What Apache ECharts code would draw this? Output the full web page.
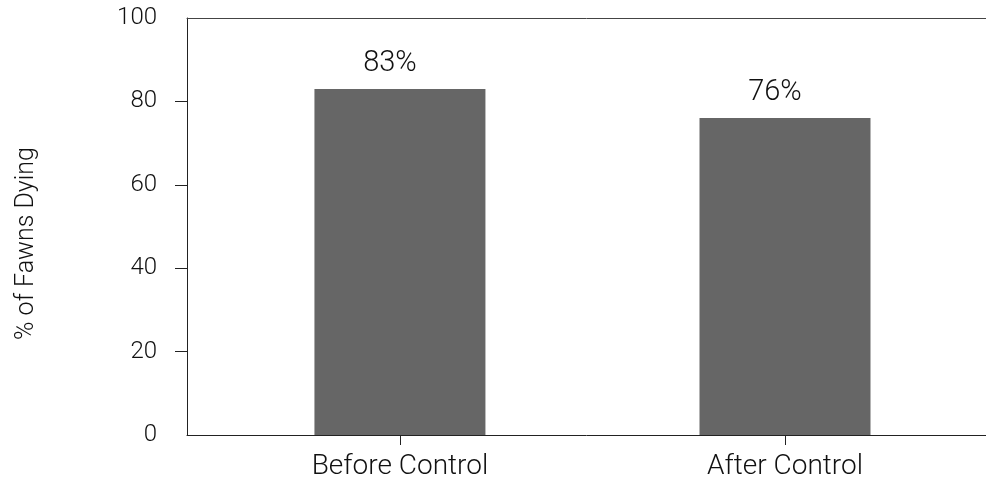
<!DOCTYPE html>
<html>
<head>
<meta charset="utf-8">
<script src="https://cdn.jsdelivr.net/npm/echarts@6/dist/echarts.min.js"></script>
<style>
html,body{margin:0;padding:0;background:#fff;}
#chart{width:986px;height:489px;}
</style>
</head>
<body>
<div id="chart"></div>
<script>
var categories = ['Before Control', 'After Control'];
var values = [83, 76];
var yTickValues = [20, 40, 60, 80];
var yLabelValues = [0, 20, 40, 60, 80, 100];
var yTitle = '% of Fawns Dying';

var FONT = 'Roboto, "Open Sans", sans-serif';
var W = 300;
var positions = categories.map(function (c, i) { return i + 1; });

var chart = echarts.init(document.getElementById('chart'), null, {renderer: 'canvas'});
chart.setOption({
  animation: false,
  backgroundColor: '#ffffff',
  grid: {left: 187, right: 0, top: 18, bottom: 54, containLabel: false},
  xAxis: [{
    type: 'value',
    min: 0.447,
    max: 2.522,
    splitLine: {show: false},
    axisLine: {show: true, lineStyle: {color: '#222', width: 1}},
    axisTick: {show: true, customValues: positions, length: 10, lineStyle: {color: '#222'}},
    axisLabel: {
      show: true,
      customValues: positions,
      margin: 18,
      fontFamily: FONT,
      fontWeight: W,
      fontSize: 28,
      color: '#111',
      formatter: function (v) { return categories[Math.round(v) - 1] || ''; }
    }
  }, {
    type: 'value',
    position: 'top',
    min: 0.447,
    max: 2.522,
    splitLine: {show: false},
    axisLine: {show: true, lineStyle: {color: '#444', width: 1}},
    axisTick: {show: false},
    axisLabel: {show: false}
  }],
  yAxis: {
    type: 'value',
    min: 0,
    max: 100,
    interval: 20,
    name: yTitle,
    nameLocation: 'middle',
    nameRotate: 90,
    nameGap: 148,
    nameTextStyle: {fontFamily: FONT, fontWeight: W, fontSize: 25, color: '#111', padding: [0, 34, 0, 0]},
    splitLine: {show: false},
    axisLine: {show: true, lineStyle: {color: '#222', width: 1}},
    axisTick: {show: true, customValues: yTickValues, length: 12, lineStyle: {color: '#222'}},
    axisLabel: {
      show: true,
      customValues: yLabelValues,
      margin: 30,
      fontFamily: FONT,
      fontWeight: W,
      fontSize: 24,
      color: '#111'
    }
  },
  series: [{
    type: 'bar',
    xAxisIndex: 0,
    barWidth: 171,
    data: values.map(function (v, i) { return [positions[i], v]; }),
    itemStyle: {color: '#666666'},
    label: {
      show: true,
      position: 'top',
      distance: 11,
      offset: [-10, 0],
      fontFamily: FONT,
      fontWeight: W,
      fontSize: 29,
      color: '#111',
      formatter: function (p) { return p.value[1] + '%'; }
    }
  }]
});
</script>
</body>
</html>
